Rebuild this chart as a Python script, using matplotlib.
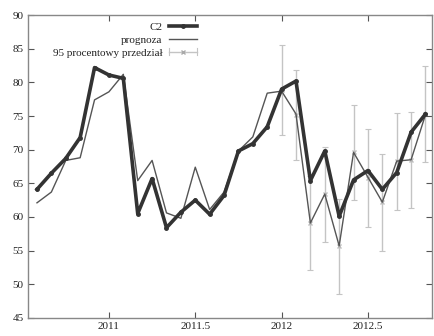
import numpy as np
import matplotlib.pyplot as plt
from matplotlib.lines import Line2D
from matplotlib.legend_handler import HandlerBase

plt.rcParams['font.family'] = ['Liberation Serif', 'DejaVu Serif']

# monthly points, Aug 2010 .. Nov 2012
t = 2010 + 7/12 + np.arange(28) / 12

c2 = [64.1, 66.5, 68.7, 71.8, 82.2, 81.1, 80.6, 60.5, 65.7, 58.4,
      60.7, 62.5, 60.4, 63.2, 69.8, 70.9, 73.4, 79.0, 80.2, 65.4,
      69.8, 60.1, 65.5, 66.9, 64.1, 66.6, 72.6, 75.3]
prognoza = [62.1, 63.7, 68.4, 68.8, 77.4, 78.6, 81.2, 65.4, 68.4, 60.6,
            59.8, 67.4, 61.1, 63.7, 69.8, 71.9, 78.4, 78.7, 75.3, 59.1,
            63.4, 55.7, 69.6, 65.9, 62.2, 68.3, 68.5, 75.2]
# 95% interval, only for the last 11 months
ci_start = 17
ci_low = [72.2, 68.5, 52.1, 56.3, 48.6, 62.5, 58.5, 55.0, 61.0, 61.3, 68.1]
ci_high = [85.5, 81.9, 66.1, 70.4, 62.7, 76.7, 73.0, 69.4, 75.5, 75.6, 82.4]


class HorizErrHandler(HandlerBase):
    # gnuplot style key sample: |--x--|
    def create_artists(self, legend, orig_handle, xdescent, ydescent,
                       width, height, fontsize, trans):
        x0, x1 = -xdescent, width - xdescent
        ym = height / 2 - ydescent
        c = '#c4c4c4'
        line = Line2D([x0, x1], [ym, ym], color=c, lw=1, transform=trans)
        caps = Line2D([x0, x0, np.nan, x1, x1], [ym - 2.5, ym + 2.5, np.nan, ym - 2.5, ym + 2.5],
                      color=c, lw=0.8, transform=trans)
        mark = Line2D([(x0 + x1) / 2], [ym], color='#aaaaaa', marker='x', ms=2.5,
                      lw=0, transform=trans)
        return [line, caps, mark]


fig = plt.figure(figsize=(4.34, 3.36), dpi=100)
ax = fig.add_axes([0.064, 0.054, 0.931, 0.901])

ci_t = t[ci_start:]
ci_mid = (np.array(ci_low) + np.array(ci_high)) / 2
ci_err = [ci_mid - np.array(ci_low), np.array(ci_high) - ci_mid]

l1, = ax.plot(t, c2, color='#333333', lw=2.6, marker='o', ms=2.5, zorder=3)
l2, = ax.plot(t, prognoza, color='#555555', lw=1.0, zorder=2)
eb = ax.errorbar(ci_t, ci_mid, yerr=ci_err, fmt='x', ms=2.5, color='#bbbbbb',
                 ecolor='#c4c4c4', elinewidth=1, capsize=2.5, capthick=0.8, zorder=1)

ax.set_xlim(2010.53, 2012.87)
ax.set_ylim(45, 90)
ax.set_xticks([2011, 2011.5, 2012, 2012.5])
ax.set_xticklabels(['2011', '2011.5', '2012', '2012.5'])
ax.set_yticks(np.arange(45, 91, 5))

ax.tick_params(direction='in', top=True, right=True, length=4, width=0.8,
               colors='#555555', labelcolor='#222222', labelsize=8, pad=3)
for s in ax.spines.values():
    s.set_color('#888888')
    s.set_linewidth(1.0)

leg = ax.legend([l1, l2, eb],
                ['C2', 'prognoza', '95 procentowy przedział'],
                handler_map={type(eb): HorizErrHandler()},
                loc='upper left', bbox_to_anchor=(0.045, 1.0), frameon=False,
                markerfirst=False, fontsize=8, handlelength=2.5,
                labelspacing=0.3, handletextpad=0.6, borderaxespad=0.2)
for txt in leg.get_texts():
    txt.set_ha('right')
    txt.set_color('#222222')
leg._legend_box.align = 'right'

fig.savefig('out.png', dpi=100)
